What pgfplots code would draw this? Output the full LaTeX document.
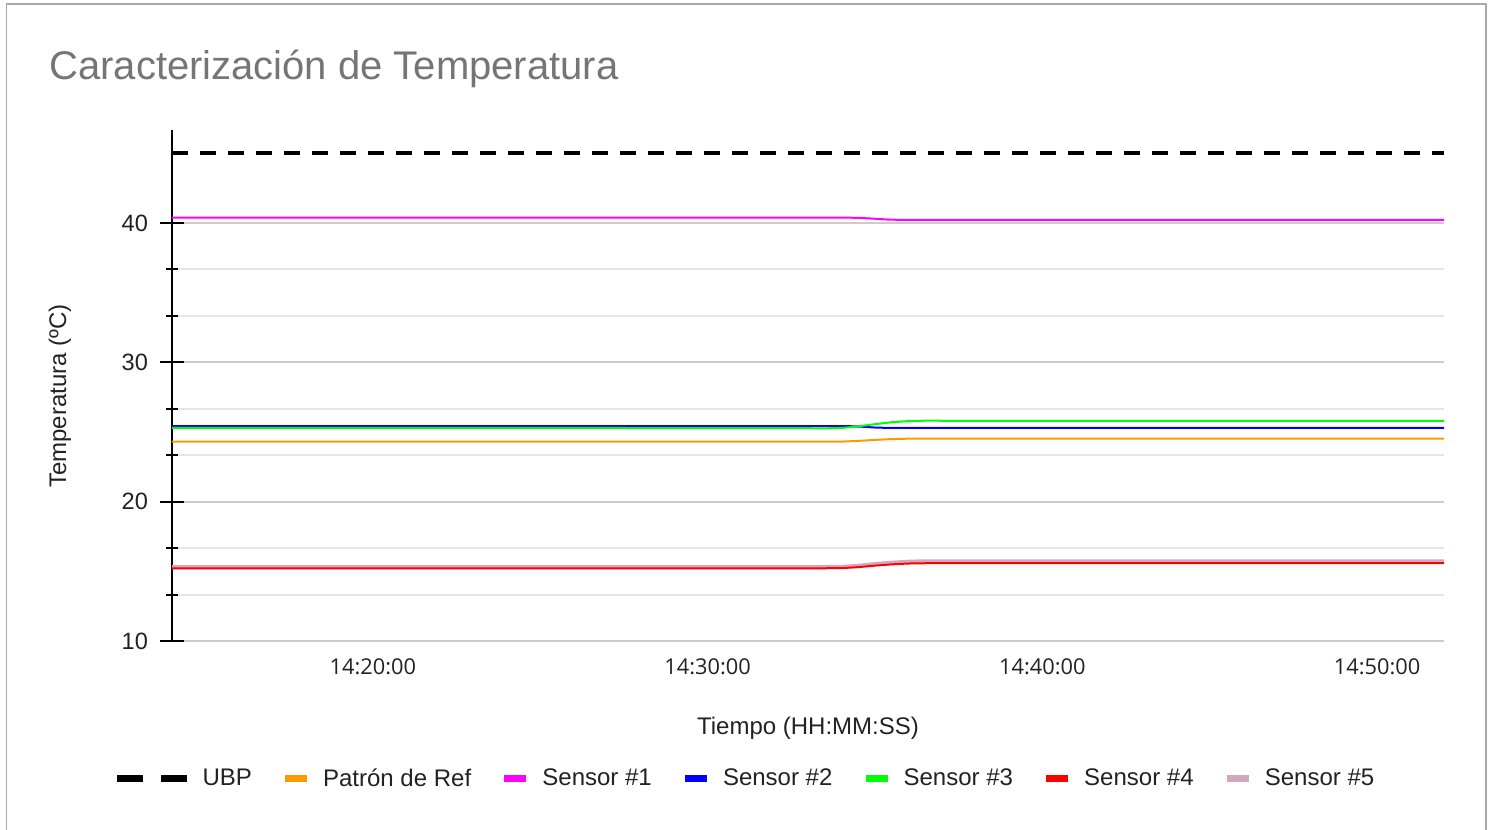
\documentclass[border=0pt]{standalone}
\usepackage{pgfplots}
\pgfplotsset{compat=1.18}
\usepackage{fontspec}
\setmainfont{Liberation Sans}
\newfontfamily\tickfont{Open Sans}
\definecolor{gridmaj}{HTML}{CCCCCC}
\definecolor{gridmin}{HTML}{E6E6E6}
\definecolor{titlegray}{HTML}{757575}
\definecolor{framegray}{HTML}{AAAAAA}
\definecolor{txt}{HTML}{222222}
\definecolor{corange}{HTML}{FF9900}
\definecolor{cmag}{HTML}{FF00FF}
\definecolor{cblue}{HTML}{0000FF}
\definecolor{cgreen}{HTML}{00FF00}
\definecolor{cred}{HTML}{FF0000}
\definecolor{cpink}{HTML}{D5A6BD}
\begin{document}
\begin{tikzpicture}
\useasboundingbox (0,0) rectangle (747.5pt,-415pt);
\draw[framegray, line width=0.8pt] (3.25pt,-420pt) -- (3.25pt,-2pt) -- (743pt,-2pt) -- (743pt,-420pt);
\node[anchor=base west, inner sep=0pt, text=titlegray, font=\fontsize{20}{24}\selectfont] at (24.5pt,-39.5pt) {Caracterización de Temperatura};
\begin{axis}[
  at={(86pt,-320.5pt)}, anchor=south west,
  scale only axis, width=636pt, height=255.5pt,
  xmin=14, xmax=52, ymin=10, ymax=46.67,
  xtick={20,30,40,50},
  xticklabels={14:20:00,14:30:00,14:40:00,14:50:00},
  ytick={10,20,30,40}, minor y tick num=2,
  ymajorgrids, yminorgrids,
  major grid style={color=gridmaj, line width=1pt},
  minor grid style={color=gridmin, line width=1pt},
  axis x line*=bottom, axis y line*=left,
  x axis line style={draw=none},
  xtick style={draw=none},
  y axis line style={black, line width=1pt},
  ytick style={black, line width=1pt},
  tick align=center,
  major tick length=12pt, minor tick length=5.5pt,
  /pgf/number format/assume math mode=true,
  yticklabel style={font=\fontsize{11.8}{13}\selectfont, text=txt, xshift=-2.5pt},
  xticklabel style={font=\tickfont\fontsize{10.9}{12}\selectfont, text=txt, yshift=0.5pt},
  ylabel={Temperatura (ºC)},
  xlabel={Tiempo (HH:MM:SS)},
  ylabel style={at={(axis description cs:-0.0881,0.479)}, anchor=center, font=\fontsize{12}{14}\selectfont, text=txt},
  xlabel style={at={(axis description cs:0.5,-0.1714)}, anchor=center, font=\fontsize{12}{14}\selectfont, text=txt},
  legend style={at={(axis description cs:0.4508,-0.270)}, anchor=center, draw=none, fill=none,
    font=\fontsize{12}{14}\selectfont, text=txt,
    /tikz/every even column/.append style={column sep=16.6pt},
    /tikz/every odd column/.append style={column sep=8pt},
    nodes={inner xsep=0pt}},
  legend columns=7,
  legend image code/.code={\fill[#1, solid, draw=none] (0pt,-1.75pt) rectangle (11pt,1.75pt);},
]
% Sensor 5 drawn first so it sits behind Sensor 4
\addplot[cpink, line width=2pt, forget plot] coordinates {
 (14,15.31) (33.5,15.31) (34.0,15.32) (34.5,15.40) (35.0,15.52) (35.5,15.62) (36.0,15.69) (36.5,15.72) (52,15.72)};
\addplot[black, line width=2pt, dash pattern=on 8pt off 6pt,
  legend image code/.code={\fill[black, solid, draw=none] (0pt,-1.75pt) rectangle (13pt,1.75pt); \fill[black, solid, draw=none] (22pt,-1.75pt) rectangle (35pt,1.75pt);}]
  coordinates {(14,45) (52,45)};
\addlegendentry{UBP}
\addplot[corange, line width=1pt] coordinates {
 (14,24.30) (33.5,24.30) (34.0,24.31) (34.5,24.36) (35.0,24.43) (35.5,24.49) (36.0,24.52) (36.5,24.53) (52,24.52)};
\addlegendentry{Patrón de Ref}
\addplot[cmag, line width=1pt] coordinates {
 (14,40.38) (34.2,40.38) (34.6,40.36) (35.0,40.30) (35.4,40.24) (35.8,40.22) (52,40.22)};
\addlegendentry{Sensor \#1}
\addplot[cblue, line width=1pt] coordinates {
 (14,25.42) (34.2,25.42) (34.6,25.38) (35.0,25.32) (35.4,25.29) (52,25.29)};
\addlegendentry{Sensor \#2}
\addplot[cgreen, line width=1pt] coordinates {
 (14,25.30) (32.5,25.28) (33.5,25.26) (34.0,25.29) (34.5,25.40) (35.0,25.56) (35.5,25.70) (36.0,25.78) (36.5,25.81) (37.5,25.80) (52,25.80)};
\addlegendentry{Sensor \#3}
\addplot[cred, line width=1pt] coordinates {
 (14,15.22) (33.5,15.22) (34.0,15.23) (34.5,15.30) (35.0,15.41) (35.5,15.50) (36.0,15.56) (36.5,15.58) (52,15.58)};
\addlegendentry{Sensor \#4}
\addlegendimage{cpink}
\addlegendentry{Sensor \#5}
\end{axis}
\end{tikzpicture}
\end{document}
